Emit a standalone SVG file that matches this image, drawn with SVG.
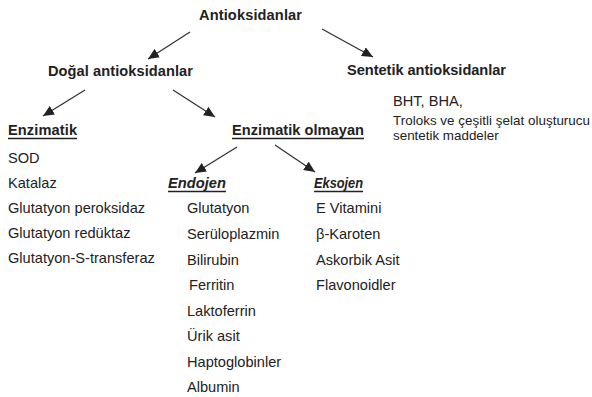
<svg xmlns="http://www.w3.org/2000/svg" width="592" height="397" viewBox="0 0 592 397">
<defs>
<marker id="ah" markerUnits="userSpaceOnUse" markerWidth="12" markerHeight="10" refX="11" refY="5" orient="auto">
<path d="M0,0 L11,5 L0,10 Z" fill="#222"/>
</marker>
</defs>
<style>
text{font-family:"Liberation Sans",Arial,sans-serif;fill:#222;font-size:14.6px}
.b{font-weight:bold}
.bi{font-weight:bold;font-style:italic}
.sm{font-size:13.4px}
.c line{stroke:#333;stroke-width:1.3;marker-end:url(#ah)}
.u{stroke:#222;stroke-width:1.4}
</style>
<rect width="592" height="397" fill="#fff"/>
<g class="c" id="connectors">
<line x1="190" y1="32" x2="148" y2="59"/>
<line x1="322" y1="29" x2="373" y2="57"/>
<line x1="85" y1="90" x2="43" y2="116"/>
<line x1="173" y1="90" x2="215" y2="117"/>
<line x1="237" y1="147" x2="195" y2="173"/>
<line x1="275" y1="145" x2="315" y2="172"/>
</g>
<g id="root"><text class="b" x="199" y="20" textLength="103">Antioksidanlar</text></g>
<g id="dogal"><text class="b" x="48" y="76" textLength="145">Doğal antioksidanlar</text></g>
<g id="sentetik"><text class="b" x="347" y="75" textLength="159">Sentetik antioksidanlar</text>
<text x="393" y="106">BHT, BHA,</text>
<text class="sm" x="393" y="125" textLength="197">Troloks ve çeşitli şelat oluşturucu</text>
<text class="sm" x="393" y="140">sentetik maddeler</text></g>
<g id="enzimatik"><text class="b" x="8" y="135" textLength="69">Enzimatik</text>
<line class="u" x1="8" y1="138.5" x2="77" y2="138.5"/>
<text x="8" y="163">SOD</text>
<text x="8" y="188">Katalaz</text>
<text x="8" y="213">Glutatyon peroksidaz</text>
<text x="8" y="238">Glutatyon redüktaz</text>
<text x="8" y="263">Glutatyon-S-transferaz</text></g>
<g id="enzimatik-olmayan"><text class="b" x="232" y="135" textLength="132">Enzimatik olmayan</text>
<line class="u" x1="232" y1="138.5" x2="364" y2="138.5"/></g>
<g id="endojen"><text class="bi" x="168" y="188" textLength="58" lengthAdjust="spacingAndGlyphs">Endojen</text>
<line class="u" x1="168" y1="191.5" x2="226" y2="191.5"/>
<text x="187" y="213">Glutatyon</text>
<text x="187" y="239">Serüloplazmin</text>
<text x="187" y="265">Bilirubin</text>
<text x="189" y="290">Ferritin</text>
<text x="187" y="316">Laktoferrin</text>
<text x="187" y="341">Ürik asit</text>
<text x="187" y="367">Haptoglobinler</text>
<text x="187" y="392">Albumin</text></g>
<g id="eksojen"><text class="bi" x="314" y="188" textLength="49" lengthAdjust="spacingAndGlyphs">Eksojen</text>
<line class="u" x1="314" y1="191.5" x2="363" y2="191.5"/>
<text x="316" y="213">E Vitamini</text>
<text x="316" y="239">β-Karoten</text>
<text x="316" y="265">Askorbik Asit</text>
<text x="316" y="290">Flavonoidler</text></g>
</svg>
